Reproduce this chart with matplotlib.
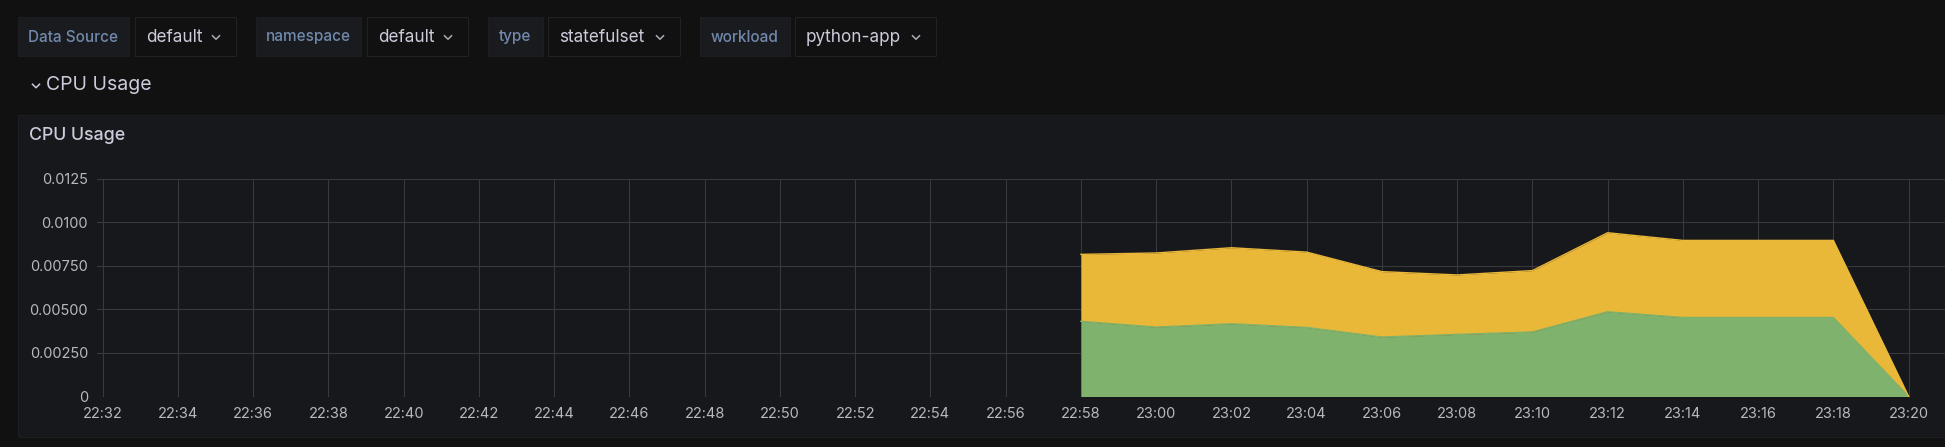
import numpy as np
import pandas as pd
import matplotlib
matplotlib.use("Agg")
import matplotlib.pyplot as plt
import matplotlib.dates as mdates
from matplotlib.patches import Rectangle
from matplotlib.lines import Line2D

# data
times = ["22:58", "23:00", "23:02", "23:04", "23:06", "23:08",
         "23:10", "23:12", "23:14", "23:16", "23:18", "23:20"]
pod_a = [0.00431, 0.00398, 0.00417, 0.00396, 0.00341, 0.00356,
         0.00370, 0.00486, 0.00453, 0.00453, 0.00453, 0.0]
pod_b = [0.00384, 0.00425, 0.00436, 0.00432, 0.00375, 0.00341,
         0.00352, 0.00453, 0.00442, 0.00442, 0.00442, 0.0]

y_ticks = [0, 0.0025, 0.005, 0.0075, 0.01, 0.0125]
y_tick_labels = ["0", "0.00250", "0.00500", "0.00750", "0.0100", "0.0125"]

var_labels = ["Data Source", "namespace", "type", "workload"]
var_values = ["default", "default", "statefulset", "python-app"]

W, H = 1945, 447
bg = "#111111"
panel_bg = "#17181b"
txt = "#ccccdc"
label_txt = "#7189ad"
grid_c = "#38393d"
green = "#7eb26d"
yellow = "#eab839"

plt.rcParams["font.family"] = ["Inter", "DejaVu Sans"]

fig = plt.figure(figsize=(W / 100, H / 100), dpi=100, facecolor=bg)


def fx(x):
    return x / W


def fy(y):
    return 1 - y / H


def box(x0, y0, x1, y1, fc, ec):
    fig.patches.append(Rectangle((fx(x0), fy(y1)), fx(x1) - fx(x0), fy(y0) - fy(y1),
                                 transform=fig.transFigure, facecolor=fc,
                                 edgecolor=ec, linewidth=0.8, zorder=-5))


def chevron(xc, yc, w=7, h=3.5, c="#aaaab4"):
    fig.lines.append(Line2D([fx(xc - w / 2), fx(xc), fx(xc + w / 2)],
                            [fy(yc - h / 2), fy(yc + h / 2), fy(yc - h / 2)],
                            transform=fig.transFigure, color=c, linewidth=1.1))


# variable bar
lbl_boxes = [(18, 129), (256, 361), (488, 543), (700, 790)]
val_boxes = [(135, 236), (367, 468), (548, 680), (795, 936)]
for lab, val, (l0, l1), (v0, v1) in zip(var_labels, var_values, lbl_boxes, val_boxes):
    box(l0, 17, l1, 56, "#1a1b1e", "#1d1e21")
    box(v0, 17, v1, 56, bg, "#212226")
    fig.text(fx((l0 + l1) / 2), fy(37), lab, color=label_txt, fontsize=11,
             fontweight="medium", ha="center", va="center")
    fig.text(fx(v0 + 11), fy(37), val, color=txt, fontsize=12.3,
             ha="left", va="center")
    chevron(v1 - 20, 37.5)

# row header
chevron(36, 86, w=7, h=3.5, c="#ccccdc")
fig.text(fx(46), fy(85.5), "CPU Usage", color=txt, fontsize=14, ha="left", va="center")

# panel
box(18, 115, W + 5, 437, panel_bg, "#1d1e22")
fig.text(fx(29), fy(136), "CPU Usage", color=txt, fontsize=12.8,
         fontweight="medium", ha="left", va="center")

# plot area
ax = fig.add_axes([fx(97), fy(396.5), fx(W) - fx(97), fy(178.5) - fy(396.5)])
ax.set_zorder(2)
ax.set_facecolor(panel_bg)

day = "2024-01-01 "
t = pd.to_datetime([day + s for s in times])
a = np.array(pod_a)
total = a + np.array(pod_b)

ax.fill_between(t, 0, a, color=green, linewidth=0, zorder=3)
ax.fill_between(t, a, total, color=yellow, linewidth=0, zorder=3)
ax.plot(t, a, color=green, linewidth=1, zorder=4)
ax.plot(t, total, color=yellow, linewidth=1, zorder=4)

x_start = pd.Timestamp(day + "22:32")
ax.set_xlim(x_start - pd.Timedelta(seconds=9), x_start + pd.Timedelta(seconds=2938))
ax.set_ylim(0, 0.0125)

ax.xaxis.set_major_locator(mdates.MinuteLocator(byminute=range(0, 60, 2)))
ax.xaxis.set_major_formatter(mdates.DateFormatter("%H:%M"))
ax.set_yticks(y_ticks)
ax.set_yticklabels(y_tick_labels)

ax.grid(True, color=grid_c, linewidth=0.8, zorder=0)
ax.set_axisbelow(True)
for s in ax.spines.values():
    s.set_visible(False)
ax.tick_params(axis="both", length=0, colors="#b8b9bf", labelsize=10.5)
ax.tick_params(axis="y", pad=6.5)
ax.tick_params(axis="x", pad=7.5)

fig.savefig("out.png", dpi=100, facecolor=bg)
